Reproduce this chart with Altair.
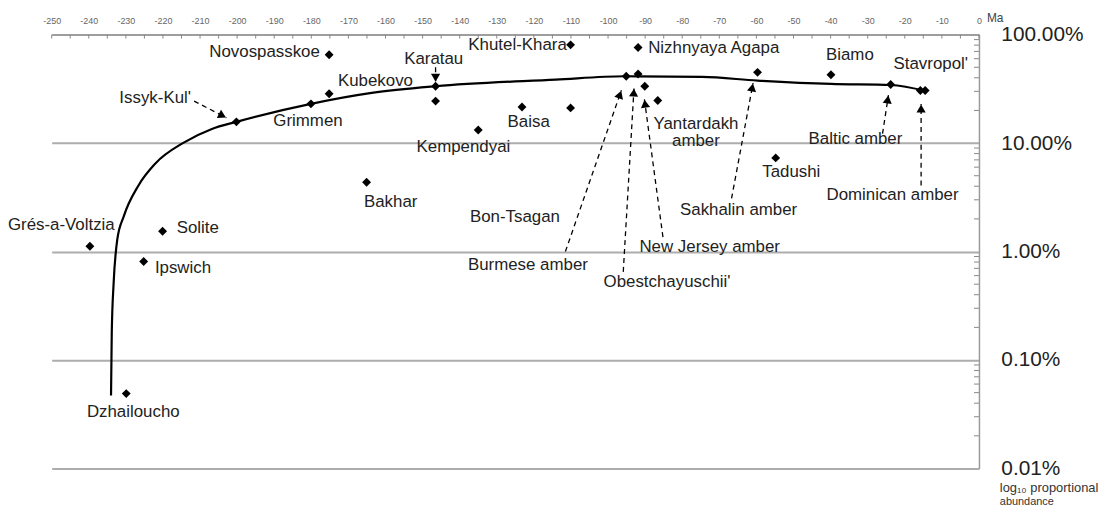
import math
import altair as alt
import pandas as pd

W, H = 934, 437
FONT = "Liberation Sans"

# ---- fossil sites (age in Ma, proportional abundance in %) ----
site_names = ["Grés-a-Voltzia", "Solite", "Ipswich", "Dzhailoucho", "Issyk-Kul'", "Grimmen",
              "Kubekovo", "Novospasskoe", "Karatau", "Karatau (2)", "Bakhar", "Kempendyai",
              "Baisa", "Khutel-Khara", "Bon-Tsagan", "Nizhnyaya Agapa", "Burmese amber",
              "Obestchayuschii'", "New Jersey amber", "Yantardakh amber", "Sakhalin amber",
              "Biamo", "Tadushi", "Baltic amber", "Dominican amber", "Stavropol'"]
site_ma = [-239.7, -220.1, -225.2, -229.9, -200.2, -180.1, -175.2, -175.2, -146.5, -146.5,
           -165.1, -135.0, -123.2, -110.1, -110.1, -91.9, -95.1, -91.9, -90.1, -86.6,
           -59.7, -39.9, -54.8, -23.8, -15.8, -14.5]
site_pct = [1.12, 1.54, 0.81, 0.049, 15.7, 23.0, 28.5, 65.2, 33.4, 24.4,
            4.35, 13.2, 21.5, 80.5, 21.1, 76.0, 41.3, 43.4, 33.4, 24.7,
            44.9, 42.6, 7.3, 34.7, 30.5, 30.5]

# ---- fitted curve ----
curve_ma = [-234.0, -233.8, -233.3, -232.3, -230.6, -226.6, -222.1, -214.4, -206.8, -200.2,
            -180.1, -163.7, -146.5, -114.1, -95.6, -74.7, -59.7, -39.9, -23.8, -14.2]
curve_pct = [0.047, 0.18, 0.51, 1.30, 2.1, 4.07, 6.46, 10.1, 13.5, 15.7,
             23.0, 29.0, 33.4, 38.5, 41.3, 40.7, 37.7, 35.1, 34.3, 30.1]

# ---- dashed leader arrows (from label to point) ----
arrow_from_ma = [-211.6, -146.5, -111.5, -95.9, -85.2, -66.7, -26.0, -15.6]
arrow_from_pct = [24.4, 49.9, 1.0, 0.65, 1.36, 3.09, 12.2, 4.06]
arrow_to_ma = [-202.9, -146.5, -96.4, -93.0, -90.2, -60.9, -24.4, -15.6]
arrow_to_pct = [17.1, 36.4, 30.7, 32.1, 25.4, 35.8, 27.7, 22.9]

# ---- text labels ----
label_text = ["Novospasskoe", "Khutel-Khara", "Nizhnyaya Agapa", "Karatau", "Kubekovo",
              "Issyk-Kul'", "Grimmen", "Kempendyai", "Baisa", "Bakhar", "Bon-Tsagan",
              "Burmese amber", "Obestchayuschii'", "New Jersey amber", "Sakhalin amber",
              "Dominican amber", "Tadushi", "Baltic amber", "Yantardakh\namber", "Biamo",
              "Stavropol'", "Grés-a-Voltzia", "Solite", "Ipswich", "Dzhailoucho"]
label_ma = [-192.6, -124.4, -71.5, -147.0, -162.7, -222.1, -180.9, -139.0, -121.4, -158.6,
            -125.1, -121.6, -84.1, -72.6, -64.8, -23.3, -50.6, -33.3, -76.3, -34.8,
            -13.0, -247.4, -210.6, -214.6, -228.0]
label_pct = [69.8, 81.0, 76.0, 59.0, 37.2, 26.1, 16.0, 9.25, 15.7, 2.86, 2.07, 0.75, 0.52,
             1.11, 2.40, 3.29, 5.37, 10.9, 15.1, 65.2, 53.1, 1.75, 1.64, 0.706, 0.0333]

# axis tick values
x_label_values = list(range(-250, 1, 10))
x_tick_values = list(range(-250, 1, 5))
y_label_values = [0.01, 0.1, 1, 10, 100]
y_minor_values = [k * 10 ** e for e in range(-2, 2) for k in range(2, 10)]

sites = pd.DataFrame({"name": site_names, "ma": site_ma, "pct": site_pct})
curve = pd.DataFrame({"ma": curve_ma, "pct": curve_pct})
arrows = pd.DataFrame({"ma": arrow_from_ma, "pct": arrow_from_pct,
                       "ma2": arrow_to_ma, "pct2": arrow_to_pct})
labels = pd.DataFrame({"text": label_text, "ma": label_ma, "pct": label_pct})

# arrowhead orientation derived from the arrow data
px_ma = W / 250.0
px_dec = H / 4.0
heads = []
for fm, fp, tm, tp in zip(arrow_from_ma, arrow_from_pct, arrow_to_ma, arrow_to_pct):
    dx = (tm - fm) * px_ma
    dy = -(math.log10(tp) - math.log10(fp)) * px_dec
    L = math.hypot(dx, dy)
    ux, uy = dx / L, dy / L
    ang = math.degrees(math.atan2(dx, -dy)) % 360
    back = 4.5
    cm = tm - back * ux / px_ma
    cl = math.log10(tp) + back * uy / px_dec
    heads.append({"ma": cm, "pct": 10 ** cl, "ang": ang})
heads = pd.DataFrame(heads)

xscale = alt.Scale(domain=[-250, 0], nice=False, zero=False)
yscale = alt.Scale(type="log", domain=[0.01, 100], nice=False)

x_axis = alt.Axis(orient="top", values=x_label_values, labelExpr="toString(datum.value)",
                  tickSize=0, labelPadding=9, labelFontSize=9, labelColor="#666",
                  labelFont=FONT, domainColor="#9a9a9a", domainWidth=1.5,
                  grid=False, title=None, labelFlush=False, labelOverlap=False)
y_axis = alt.Axis(orient="right", values=y_label_values,
                  labelExpr="format(datum.value, '.2f') + '%'",
                  tickSize=0, labelPadding=22, labelFontSize=21, labelColor="#222",
                  labelFont=FONT, grid=True, gridColor="#adadad", gridWidth=2,
                  domainColor="#9a9a9a", domainWidth=1.5, title=None,
                  labelFlush=False, labelBaseline="middle", labelOverlap=False)

x_enc = alt.X("ma:Q", scale=xscale, axis=x_axis)
y_enc = alt.Y("pct:Q", scale=yscale, axis=y_axis)

top_ticks = alt.Chart(pd.DataFrame({"ma": x_tick_values})).mark_rule(color="#888", strokeWidth=1).encode(
    x=x_enc, y=alt.value(0), y2=alt.value(4))

right_ticks = alt.Chart(pd.DataFrame({"pct": y_minor_values})).mark_rule(color="#888", strokeWidth=1).encode(
    y=y_enc, x=alt.value(W - 5), x2=alt.value(W))

curve_layer = alt.Chart(curve).mark_line(color="black", strokeWidth=2.2, interpolate="monotone").encode(
    x=x_enc, y=y_enc)

arrow_layer = alt.Chart(arrows).mark_rule(color="black", strokeWidth=1.3, strokeDash=[5, 4]).encode(
    x=x_enc, y=y_enc, x2="ma2:Q", y2="pct2:Q")

head_layer = alt.Chart(heads).mark_point(shape="triangle-up", filled=True, size=85, color="black", opacity=1).encode(
    x=x_enc, y=y_enc, angle=alt.Angle("ang:Q", scale=None))

point_layer = alt.Chart(sites).mark_point(shape="diamond", filled=True, size=80, color="black", opacity=1).encode(
    x=x_enc, y=y_enc)

text_layer = alt.Chart(labels).mark_text(font=FONT, fontSize=17, color="#222", align="center",
                                         baseline="middle", lineBreak="\n", lineHeight=18).encode(
    x=x_enc, y=y_enc, text="text:N")

one = pd.DataFrame({"a": [0]})
ma_text = alt.Chart(one).mark_text(font=FONT, fontSize=12, color="#444", align="left", baseline="middle").encode(
    x=alt.value(W + 8), y=alt.value(-17), text=alt.value("Ma"))
log_text = alt.Chart(one).mark_text(font=FONT, fontSize=13, color="#333", align="left", baseline="middle").encode(
    x=alt.value(W + 21), y=alt.value(H + 20), text=alt.value("log₁₀ proportional"))
ab_text = alt.Chart(one).mark_text(font=FONT, fontSize=11, color="#333", align="left", baseline="middle").encode(
    x=alt.value(W + 21), y=alt.value(H + 34), text=alt.value("abundance"))

chart = alt.layer(top_ticks, right_ticks, curve_layer, arrow_layer, head_layer,
                  point_layer, text_layer, ma_text, log_text, ab_text).properties(
    width=W, height=H,
    padding={"left": 44, "top": 25, "right": 134, "bottom": 38},
    autosize=alt.AutoSizeParams(type="none"),
    background="white",
).configure_view(stroke=None)

chart.save("out.html", embed_options={"renderer": "svg", "actions": False})
